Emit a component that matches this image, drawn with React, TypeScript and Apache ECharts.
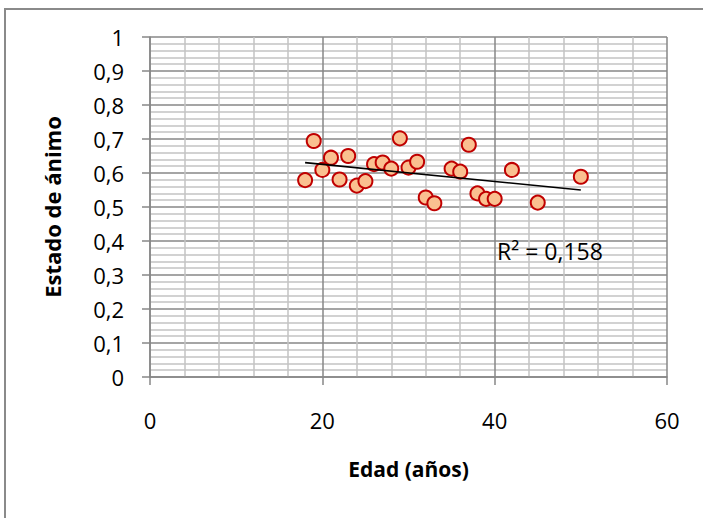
import React, { useEffect, useRef } from "react";
import * as echarts from "echarts";

const edad: number[] = [18, 19, 20, 21, 22, 23, 24, 25, 26, 27, 28, 29, 30, 31, 32, 33, 35, 36, 37, 38, 39, 40, 42, 45, 50];
const animo: number[] = [0.579, 0.694, 0.609, 0.645, 0.581, 0.65, 0.563, 0.576, 0.626, 0.631, 0.613, 0.702, 0.616, 0.633, 0.528, 0.511, 0.613, 0.604, 0.683, 0.54, 0.524, 0.524, 0.609, 0.513, 0.589];
const r2Label = "R² = 0,158";
const xTitle = "Edad (años)";
const yTitle = "Estado de ánimo";

function regression(xs: number[], ys: number[]) {
  const n = xs.length;
  const mx = xs.reduce((a, b) => a + b, 0) / n;
  const my = ys.reduce((a, b) => a + b, 0) / n;
  let sxy = 0;
  let sxx = 0;
  for (let i = 0; i < n; i++) {
    sxy += (xs[i] - mx) * (ys[i] - my);
    sxx += (xs[i] - mx) * (xs[i] - mx);
  }
  const b = sxy / sxx;
  const a = my - b * mx;
  return { a, b };
}

const FONT = "'Open Sans', 'Noto Sans', sans-serif";
const MAJOR = "#878787";
const MINOR = "#c3c3c3";

export default function App() {
  const ref = useRef<HTMLDivElement>(null);
  useEffect(() => {
    if (!ref.current) return;
    const chart = echarts.init(ref.current, undefined, { renderer: "svg" });
    const { a, b } = regression(edad, animo);
    const x0 = Math.min(...edad);
    const x1 = Math.max(...edad);
    const trend = [
      [x0, a + b * x0],
      [x1, a + b * x1],
    ];
    chart.setOption({
      animation: false,
      backgroundColor: "#ffffff",
      grid: { left: 150, top: 37, right: 36, bottom: 141 },
      xAxis: {
        type: "value",
        min: 0,
        max: 60,
        interval: 20,
        name: xTitle,
        nameLocation: "middle",
        nameGap: 81,
        nameTextStyle: { fontFamily: FONT, fontSize: 21, fontWeight: "bold", color: "#000" },
        axisLine: { show: true, onZero: false, lineStyle: { color: MAJOR, width: 1.5 } },
        axisTick: { show: true, inside: false, length: 8, lineStyle: { color: MAJOR, width: 1.5 } },
        axisLabel: { fontFamily: FONT, fontSize: 22, color: "#000", margin: 32 },
        splitLine: { show: true, lineStyle: { color: MAJOR, width: 1.5 } },
        minorTick: { show: false, splitNumber: 5 },
        minorSplitLine: { show: true, lineStyle: { color: MINOR, width: 1.5 } },
      },
      yAxis: {
        type: "value",
        min: 0,
        max: 1,
        interval: 0.1,
        name: yTitle,
        nameLocation: "middle",
        nameGap: 87,
        nameTextStyle: { fontFamily: FONT, fontSize: 22, fontWeight: "bold", color: "#000" },
        axisLine: { show: true, onZero: false, lineStyle: { color: MAJOR, width: 1.5 } },
        axisTick: { show: true, inside: false, length: 8, lineStyle: { color: MAJOR, width: 1.5 } },
        axisLabel: {
          fontFamily: FONT,
          fontSize: 22,
          color: "#000",
          margin: 26,
          formatter: (v: number) => (Math.round(v * 10) / 10).toString().replace(".", ","),
        },
        splitLine: { show: true, lineStyle: { color: MAJOR, width: 1.5 } },
        minorTick: { show: false, splitNumber: 5 },
        minorSplitLine: { show: true, lineStyle: { color: MINOR, width: 1.5 } },
      },
      series: [
        {
          type: "scatter",
          data: edad.map((x, i) => [x, animo[i]]),
          symbol: "circle",
          symbolSize: 14,
          itemStyle: { color: "#FAC090", borderColor: "#C00000", borderWidth: 2, opacity: 1 },
          z: 3,
        },
        {
          type: "line",
          data: trend,
          symbol: "none",
          lineStyle: { color: "#000", width: 1.6 },
          z: 4,
          silent: true,
        },
      ],
      graphic: [
        {
          type: "rect",
          shape: { x: 5, y: 9, width: 760, height: 560 },
          style: { fill: "none", stroke: "#8a8a8a", lineWidth: 2 },
          silent: true,
        },
        {
          type: "text",
          left: 497,
          top: 239,
          style: { text: r2Label, fontFamily: FONT, fontSize: 23, fill: "#000" },
          z: 10,
        },
      ],
    });
    return () => chart.dispose();
  }, []);
  return (
    <div
      ref={ref}
      style={{ position: "fixed", left: 0, top: 0, width: 703, height: 518 }}
    />
  );
}
